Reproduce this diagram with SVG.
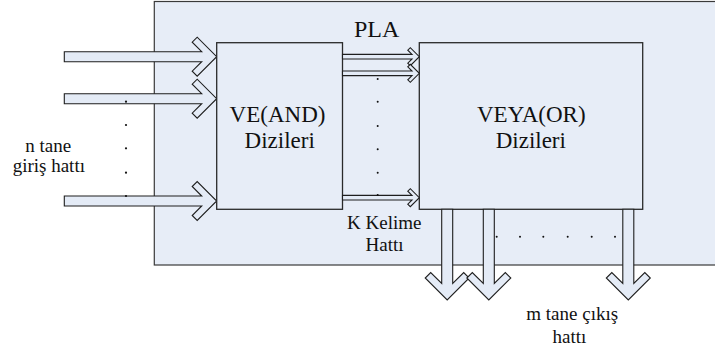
<svg xmlns="http://www.w3.org/2000/svg" width="715" height="354" viewBox="0 0 715 354" font-family="'Liberation Serif', 'Times New Roman', serif">
<style>
.bg{fill:#e7edf7;stroke:#3a3a3a;stroke-width:1.2}
.box{fill:#e7edf7;stroke:#2a2a2a;stroke-width:1.3}
.arr{fill:#e4ebf6;stroke:#1e1e1e;stroke-width:1.1;stroke-linejoin:miter}
.dot{fill:#111}
.lbl{font-family:'Liberation Serif','Times New Roman',serif;fill:#111;text-anchor:middle}
.big{font-size:23px}
.sm{font-size:19px}
</style>
<g id="pla">
<rect class="bg" x="154.3" y="1.5" width="570" height="263.5"/>
<text class="lbl" x="376.7" y="36.7" font-size="24">PLA</text>
</g>
<g id="connectors">
<g id="inputs">
<path class="arr" d="M64.3,51.7 L201.7,51.7 L192.2,42.2 L197.2,37.2 L216.7,56.7 L197.2,76.2 L192.2,71.2 L201.7,61.7 L64.3,61.7 Z"/>
<path class="arr" d="M64.3,93.7 L201.7,93.7 L192.2,84.2 L197.2,79.2 L216.7,98.7 L197.2,118.2 L192.2,113.2 L201.7,103.7 L64.3,103.7 Z"/>
<path class="arr" d="M64.3,196 L201.7,196 L192.2,186.5 L197.2,181.5 L216.7,201 L197.2,220.5 L192.2,215.5 L201.7,206 L64.3,206 Z"/>
</g>
</g>
<g id="and-array">
<rect class="box" x="216.7" y="42.7" width="125.8" height="166.6"/>
<text class="lbl big" x="277.5" y="121.7">VE(AND)</text>
<text class="lbl big" x="279.7" y="147.7">Dizileri</text>
</g>
<g id="or-array">
<rect class="box" x="419.3" y="42.7" width="223.4" height="166.6"/>
<text class="lbl big" x="531.3" y="121.7">VEYA(OR)</text>
<text class="lbl big" x="530.8" y="147.7">Dizileri</text>
</g>
<g id="connectors2">
<g id="word-lines">
<path class="arr" d="M342.5,54.4 L412,54.4 L407.8,50.2 L410.3,47.7 L419.3,56.7 L410.3,65.7 L407.8,63.2 L412,59 L342.5,59 Z"/>
<path class="arr" d="M342.5,71 L412,71 L407.8,66.8 L410.3,64.3 L419.3,73.3 L410.3,82.3 L407.8,79.8 L412,75.6 L342.5,75.6 Z"/>
<path class="arr" d="M342.5,195.4 L412,195.4 L407.8,191.2 L410.3,188.7 L419.3,197.7 L410.3,206.7 L407.8,204.2 L412,200 L342.5,200 Z"/>
</g>
<g id="outputs">
<path class="arr" d="M441.7,209.3 L441.7,283.5 L430.7,272.5 L425.2,278 L447.2,300 L469.2,278 L463.7,272.5 L452.7,283.5 L452.7,209.3 Z"/>
<path class="arr" d="M483.3,209.3 L483.3,283.5 L472.3,272.5 L466.8,278 L488.8,300 L510.8,278 L505.3,272.5 L494.3,283.5 L494.3,209.3 Z"/>
<path class="arr" d="M622.8,209.3 L622.8,283.5 L611.8,272.5 L606.3,278 L628.3,300 L650.3,278 L644.8,272.5 L633.8,283.5 L633.8,209.3 Z"/>
</g>
</g>
<g id="dots">
<circle class="dot" cx="126" cy="101.7" r="1.1"/>
<circle class="dot" cx="126" cy="125" r="1.1"/>
<circle class="dot" cx="126" cy="148.3" r="1.1"/>
<circle class="dot" cx="126" cy="172.7" r="1.1"/>
<circle class="dot" cx="126" cy="196" r="1.1"/>
<circle class="dot" cx="377.7" cy="79" r="1"/>
<circle class="dot" cx="377.7" cy="101.7" r="1"/>
<circle class="dot" cx="377.7" cy="126" r="1"/>
<circle class="dot" cx="377.7" cy="149.3" r="1"/>
<circle class="dot" cx="377.7" cy="172.7" r="1"/>
<circle class="dot" cx="377.7" cy="195" r="1"/>
<circle class="dot" cx="496.7" cy="236.7" r="1"/>
<circle class="dot" cx="520" cy="236.7" r="1"/>
<circle class="dot" cx="543.3" cy="236.7" r="1"/>
<circle class="dot" cx="567.7" cy="236.7" r="1"/>
<circle class="dot" cx="591.7" cy="236.7" r="1"/>
<circle class="dot" cx="615" cy="236.7" r="1"/>
</g>
<g id="labels">
<text class="lbl sm" x="48.3" y="151.7">n tane</text>
<text class="lbl sm" x="48.8" y="171.7">giriş hattı</text>
<text class="lbl sm" x="384.3" y="229.3">K Kelime</text>
<text class="lbl sm" x="384.5" y="251">Hattı</text>
<text class="lbl sm" x="572.2" y="320">m tane çıkış</text>
<text class="lbl sm" x="569.5" y="343.3">hattı</text>
</g>
</svg>
